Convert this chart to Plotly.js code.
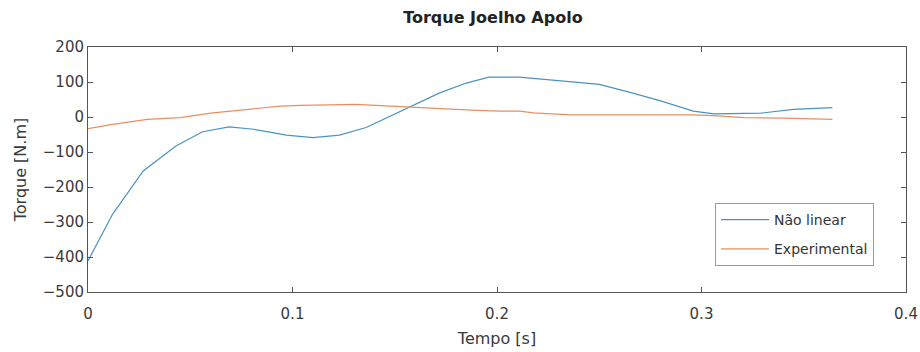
<!DOCTYPE html>
<html>
<head>
<meta charset="utf-8">
<script src="https://cdn.plot.ly/plotly-3.0.1.min.js"></script>
<style>html,body{margin:0;padding:0;background:#fff;}#chart{width:920px;height:352px;}</style>
</head>
<body>
<div id="chart"></div>
<script>
// Tempo [s] and Torque [N.m]
const naoLinearT = [0, 0.012, 0.027, 0.043, 0.056, 0.069, 0.081, 0.097, 0.110, 0.123, 0.136, 0.148, 0.159, 0.172, 0.185, 0.196, 0.211, 0.231, 0.250, 0.266, 0.280, 0.296, 0.306, 0.329, 0.345, 0.364];
const naoLinearY = [-411, -278, -154, -83, -42, -28, -35, -52, -59, -52, -30, 3, 31, 69, 97, 114, 114, 103, 93, 69, 46, 17, 9, 11, 22, 27];
const experimentalT = [0, 0.012, 0.029, 0.045, 0.061, 0.078, 0.094, 0.104, 0.120, 0.131, 0.148, 0.162, 0.175, 0.190, 0.202, 0.211, 0.218, 0.236, 0.260, 0.280, 0.296, 0.308, 0.321, 0.340, 0.364];
const experimentalY = [-33, -21, -7, -2, 12, 22, 31, 33, 36, 36, 31, 27, 22, 19, 17, 17, 12, 6, 6, 6, 6, 3, -2, -3, -7];
const seriesNames = ["Não linear", "Experimental"];
const xTicks = [0, 0.1, 0.2, 0.3, 0.4];
const xTickText = ["0", "0.1", "0.2", "0.3", "0.4"];
const yTicks = [-500, -400, -300, -200, -100, 0, 100, 200];

const FONT = "DejaVu Sans, Liberation Sans, Arial, sans-serif";
const traces = [
  {x: naoLinearT, y: naoLinearY, name: seriesNames[0], type: "scatter", mode: "lines",
   line: {color: "#4a93c0", width: 1.2}, legendgroup: "a"},
  {x: experimentalT, y: experimentalY, name: seriesNames[1], type: "scatter", mode: "lines",
   line: {color: "#e98e62", width: 1.2}, legendgroup: "b"}
];
const axisCommon = {
  showline: true, linecolor: "#555", linewidth: 1, mirror: "ticks",
  ticks: "inside", ticklen: 5, tickcolor: "#555", tickwidth: 1,
  showgrid: false, zeroline: false,
  tickfont: {family: FONT, size: 15, color: "#3a3a3a"}
};
const layout = {
  width: 920, height: 352,
  margin: {l: 88, r: 14, t: 47, b: 60},
  paper_bgcolor: "#fff", plot_bgcolor: "#fff",
  title: {text: "<b>Torque Joelho Apolo</b>", xref: "paper", x: 0.495, xanchor: "center", y: 0.95, yanchor: "middle",
          font: {family: FONT, size: 16, color: "#222"}},
  xaxis: Object.assign({}, axisCommon, {
    range: [0, 0.4], tickvals: xTicks, ticktext: xTickText, ticklabelstandoff: 8,
    title: {text: "Tempo [s]", font: {family: FONT, size: 16, color: "#3a3a3a"}, standoff: 10}
  }),
  yaxis: Object.assign({}, axisCommon, {
    range: [-500, 200], tickvals: yTicks,
    title: {text: "Torque [N.m]", font: {family: FONT, size: 16, color: "#3a3a3a"}, standoff: 12}
  }),
  showlegend: true,
  legend: {
    x: 0.7665, xanchor: "left", y: 0.363, yanchor: "top",
    bgcolor: "#fff", bordercolor: "#999", borderwidth: 1,
    font: {family: FONT, size: 14, color: "#333"},
    traceorder: "grouped", tracegroupgap: 8, itemwidth: 48
  }
};
Plotly.newPlot("chart", traces, layout, {displayModeBar: false, staticPlot: true});
</script>
</body>
</html>
